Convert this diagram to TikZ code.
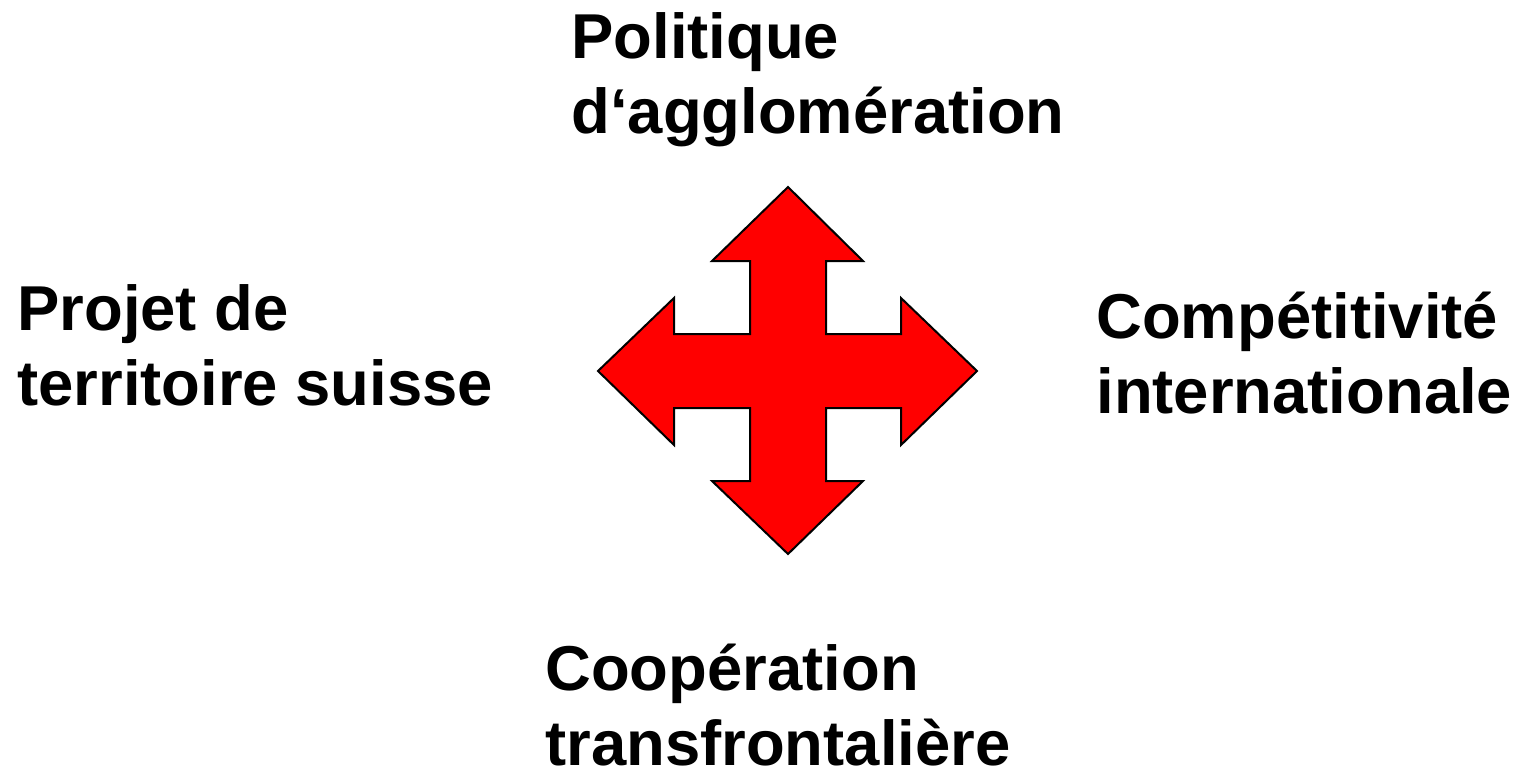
\documentclass[tikz,border=0pt]{standalone}
\usepackage{fontspec}
\setmainfont{Liberation Sans}
\usepackage{tikz}
\usetikzlibrary{positioning}

\tikzset{
  theme/.style={font=\bfseries\fontsize{31.7}{37.5}\selectfont, align=left,
                inner sep=0pt, anchor=base west},
  bigarrow/.style={fill=red, draw=black, line width=1pt, line join=miter}
}

\begin{document}
\begin{tikzpicture}[x=0.5pt, y=-0.5pt]
  \useasboundingbox (0,0) rectangle (1521,772);
  % four-headed arrow in the middle
  \draw[bigarrow] (788,187) -- (863,261) -- (826,261) -- (826,334)
    -- (901,334) -- (901,298) -- (977,371) -- (901,445) -- (901,408)
    -- (826,408) -- (826,481) -- (863,481) -- (788,554) -- (712,481)
    -- (750,481) -- (750,408) -- (674,408) -- (674,445) -- (598,371)
    -- (674,298) -- (674,334) -- (750,334) -- (750,261) -- (712,261) -- cycle;
  % the four themes (anchored at the baseline of their last line)
  \node[theme] (aggl) at (571,133) {Politique\\d‘agglomération};
  \node[theme] (terr) at (17,405) {Projet de\\territoire suisse};
  \node[theme] (comp) at (1096,413) {Compétitivité\\internationale};
  \node[theme] (coop) at (545,765) {Coopération\\transfrontalière};
\end{tikzpicture}
\end{document}
